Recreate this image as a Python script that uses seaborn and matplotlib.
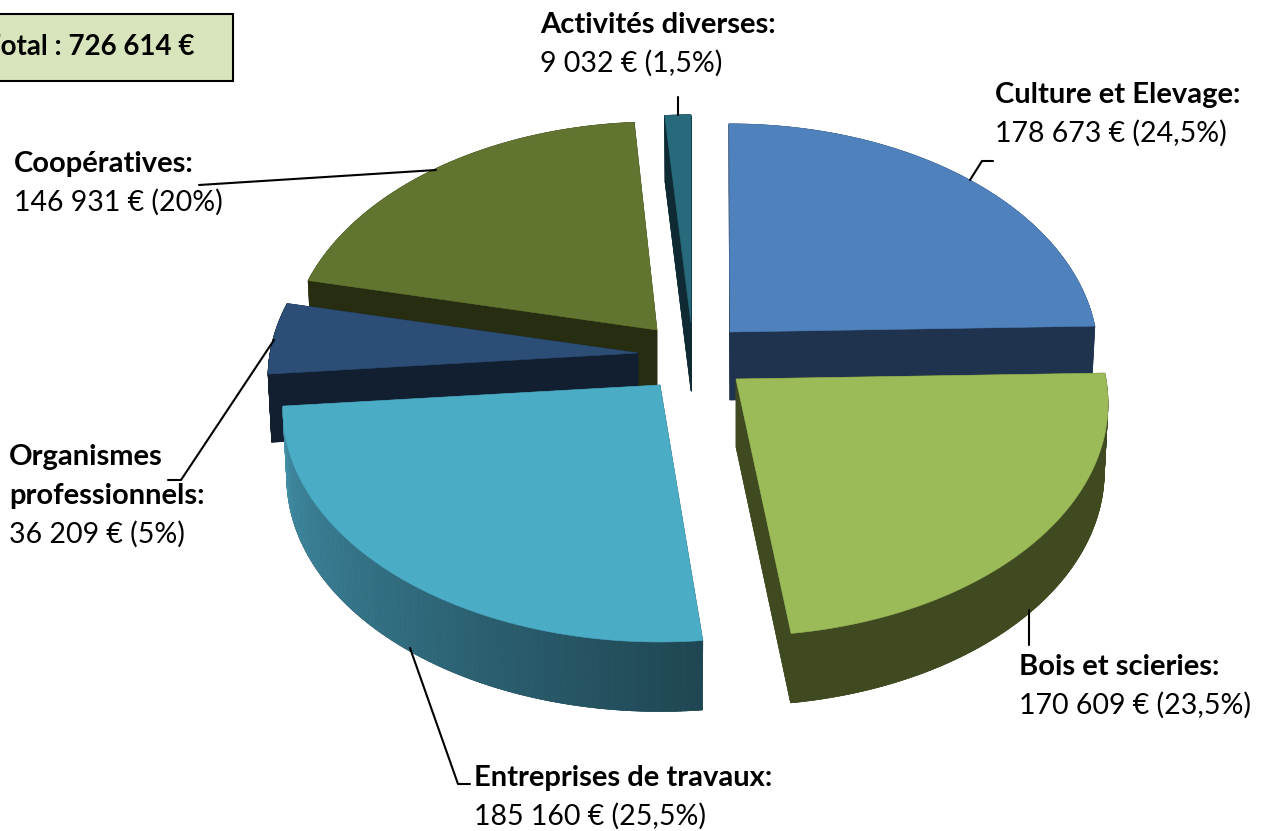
#!/usr/bin/env python
"""
Exploded 3D looking pie of the amounts per sector
"""
import numpy as np
import seaborn as sns
import matplotlib.pyplot as plt
from matplotlib.patches import Rectangle

total_label = "Total : 726 614 €"
categories = ["Culture et Elevage:", "Bois et scieries:", "Entreprises de travaux:",
              "Organismes\nprofessionnels:", "Coopératives:", "Activités diverses:"]
amounts = [178673, 170609, 185160, 36209, 146931, 9032]
amount_labels = ["178 673 € (24,5%)", "170 609 € (23,5%)", "185 160 € (25,5%)",
                 "36 209 € (5%)", "146 931 € (20%)", "9 032 € (1,5%)"]

top_colors = ["#4f81bd", "#9bbb59", "#4bacc6", "#2c4d75", "#627530", "#276a7c"]
wall_colors = ["#1f334f", "#404a21", "#1f4652", "#121f30", "#272d11", "#0f2a32"]
gradient_ends = ["#4391aa", "#1f4652"]

# layout of the slices, in pixels
apex_x = [730, 736, 660, 638, 657, 691]
apex_y = [332, 379, 385, 353, 330, 323]
radius_x = [366, 370, 375, 368, 366, 372]
radius_y = 230
tilt = 0.105
depth = 68
draw_order = [5, 4, 0, 3, 2, 1]
# small corrections of the slice edges, as a part of the full turn
start_nudge = [-0.0005, 0, 0.003, 0, 0, 0]
stop_nudge = [0, -0.002, 0, 0, 0.0015, 0]

# where the label text starts: x, baseline of the first line
label_x = [995, 1019, 474, 9, 14, 540]
label_y = [103, 675, 786, 465, 172, 33]
line_step = 39
leaders = [([970, 982, 993], [180, 161, 161]),
           ([1029, 1029], [610, 645]),
           ([410, 458, 470], [648, 784, 784]),
           ([274, 181, 168], [340, 480, 480]),
           ([199, 436], [185, 170]),
           ([678, 678], [97, 115])]

sns.set_theme(style="white")
plt.rcParams['font.family'] = ['Lato', 'DejaVu Sans']


def slice_points(start, stop, i, n=120):
    # outer arc of one slice on the top and the bottom plane
    t = 2 * np.pi * np.linspace(start, stop, n)
    u, v = np.sin(t), np.cos(t)
    w = 1 + tilt * v
    top_x = apex_x[i] + radius_x[i] * u / w
    top_y = apex_y[i] - radius_y * v / w
    low_x = apex_x[i] + 0.99 * radius_x[i] * u / w
    low_y = top_y + depth - 1.5 * v
    return top_x, top_y, low_x, low_y


def patch(ax, xs, ys, color):
    ax.fill(xs, ys, facecolor=color, edgecolor=color, linewidth=0.4)


fig = plt.figure(figsize=(12.61, 8.31), dpi=100)
ax = fig.add_axes([0, 0, 1, 1])
ax.set_xlim(0, 1261)
ax.set_ylim(831, 0)
ax.axis('off')

stops = np.cumsum(amounts) / np.sum(amounts)
starts = np.r_[0, stops[:-1]]
gradient = sns.blend_palette(gradient_ends, n_colors=120)

for i in draw_order:
    tx, ty, lx, ly = slice_points(starts[i] + start_nudge[i], stops[i] + stop_nudge[i], i)
    ax0, ay0 = apex_x[i], apex_y[i]
    wall = wall_colors[i]
    # bottom plane and the two cut faces
    patch(ax, np.r_[ax0, lx], np.r_[ay0 + depth, ly], wall)
    patch(ax, [ax0, tx[0], lx[0], ax0], [ay0, ty[0], ly[0], ay0 + depth], wall)
    patch(ax, [ax0, tx[-1], lx[-1], ax0], [ay0, ty[-1], ly[-1], ay0 + depth], wall)
    # outer wall, the large front slice is shaded from right to left
    for j in range(len(tx) - 1):
        c = gradient[len(tx) - 2 - j] if i == 2 else wall
        patch(ax, [tx[j], tx[j + 1], lx[j + 1], lx[j]],
              [ty[j], ty[j + 1], ly[j + 1], ly[j]], c)
    patch(ax, np.r_[ax0, tx], np.r_[ay0, ty], top_colors[i])

for xs, ys in leaders:
    ax.plot(xs, ys, color='black', linewidth=1.5, zorder=5)

bold_size = 21
plain_size = 20.5
for i in range(len(categories)):
    lines = categories[i].split("\n")
    for k, line in enumerate(lines):
        ax.text(label_x[i], label_y[i] + k * line_step, line, fontsize=bold_size,
                fontweight='bold', color='black', va='baseline', zorder=6)
    ax.text(label_x[i], label_y[i] + len(lines) * line_step, amount_labels[i],
            fontsize=plain_size, color='black', va='baseline', zorder=6)

ax.add_patch(Rectangle((-5, 14), 238, 67, facecolor='#d8e4bc', edgecolor='black',
                       linewidth=1.5, zorder=5))
ax.text(194, 55, total_label, fontsize=20, fontweight='bold', ha='right',
        va='baseline', color='black', zorder=6)

fig.savefig('out.png', dpi=100)
